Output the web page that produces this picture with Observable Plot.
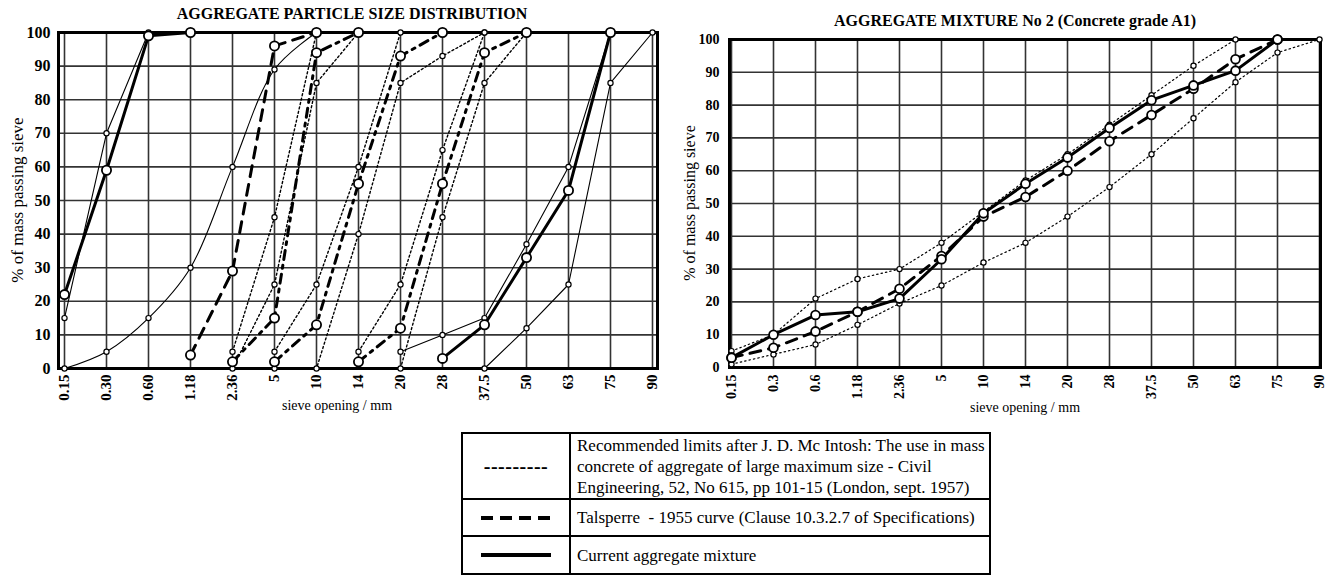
<!DOCTYPE html>
<html>
<head>
<meta charset="utf-8">
<script src="https://cdn.jsdelivr.net/npm/d3@7"></script>
<script src="https://cdn.jsdelivr.net/npm/@observablehq/plot@0.6"></script>
<style>
  body { margin: 0; background: #fff; }
  #root { position: relative; width: 1331px; height: 581px; background: #fff; font-family: "Liberation Serif", "DejaVu Serif", serif; color: #000; overflow: hidden; }
  .abs { position: absolute; }
  .title { font-weight: bold; font-size: 16px; text-align: center; white-space: nowrap; }
  .ylab { font-size: 17px; white-space: nowrap; transform: translate(-50%, -50%) rotate(-90deg); }
  .xlab { font-size: 14px; text-align: center; white-space: nowrap; transform: translate(-50%, -50%); }
  table.legend { border-collapse: collapse; font-size: 17px; line-height: 21px; }
  table.legend td { border: 2px solid #000; padding: 0 2px 0 6px; }
  table.legend td.sym { width: 106px; text-align: center; padding: 0; }
  table.legend td.dashes { font-size: 20px; font-weight: bold; letter-spacing: 0.5px; }
</style>
</head>
<body>
<div id="root"></div>
<script>
// ---------- categories ----------
const sieves = [0.15, 0.3, 0.6, 1.18, 2.36, 5, 10, 14, 20, 28, 37.5, 50, 63, 75, 90];
const leftTickLabels  = ["0.15","0.30","0.60","1.18","2.36","5","10","14","20","28","37.5","50","63","75","90"];
const rightTickLabels = ["0.15","0.3","0.6","1.18","2.36","5","10","14","20","28","37.5","50","63","75","90"];
const yTicks = [0,10,20,30,40,50,60,70,80,90,100];

// ---------- left chart: aggregate particle size distribution (% passing, aligned with sieves) ----------
const _ = null;
const sandUpper      = [15, 70, 100, _, _, _, _, _, _, _, _, _, _, _, _];
const sandLower      = [0, 5, 15, 30, 60, 89, 100, _, _, _, _, _, _, _, _];
const sandCurrent    = [22, 59, 99, 100, _, _, _, _, _, _, _, _, _, _, _];
const sandTalsperre  = [_, _, _, 4, 29, 96, 100, _, _, _, _, _, _, _, _];
const g1Upper        = [_, _, _, _, 5, 45, 100, _, _, _, _, _, _, _, _];
const g1Lower        = [_, _, _, _, 0, 25, 85, 100, _, _, _, _, _, _, _];
const g1Current      = [_, _, _, _, 2, 15, 94, 100, _, _, _, _, _, _, _];
const g2Upper        = [_, _, _, _, _, 5, 25, 60, 100, _, _, _, _, _, _];
const g2Lower        = [_, _, _, _, _, 0, 0, 40, 85, 93, 100, _, _, _, _];
const g2Current      = [_, _, _, _, _, 2, 13, 55, 93, 100, _, _, _, _, _];
const g3Upper        = [_, _, _, _, _, _, _, 5, 25, 65, 100, _, _, _, _];
const g3Lower        = [_, _, _, _, _, _, _, _, 0, 45, 85, 100, _, _, _];
const g3Current      = [_, _, _, _, _, _, _, 2, 12, 55, 94, 100, _, _, _];
const coarseUpper    = [_, _, _, _, _, _, _, _, 5, 10, 15, 37, 60, 100, _];
const coarseLower    = [_, _, _, _, _, _, _, _, _, _, 0, 12, 25, 85, 100];
const coarseCurrent  = [_, _, _, _, _, _, _, _, _, 3, 13, 33, 53, 100, _];

// ---------- right chart: aggregate mixture No 2 ----------
const mixCurrent   = [3, 10, 16, 17, 21, 33, 47, 56, 64, 73, 81.5, 86, 90.5, 100, _];
const mixTalsperre = [3, 6, 11, 17, 24, 34, 46, 52, 60, 69, 77, 85, 94, 100, _];
const mixUpper     = [5, 10, 21, 27, 30, 38, 47.5, 57, 65, 74, 83, 92, 100, _, _];
const mixLower     = [1, 4, 7, 13, 19.5, 25, 32, 38, 46, 55, 65, 76, 87, 96, 100];

// ---------- legend texts ----------
const legendLines1 = [
  "Recommended limits after J. D. Mc Intosh: The use in mass",
  "concrete of aggregate of large maximum size - Civil",
  "Engineering, 52, No 615, pp 101-15 (London, sept. 1957)"
];
const legendText2 = "Talsperre  - 1955 curve (Clause 10.3.2.7 of Specifications)";
const legendText3 = "Current aggregate mixture";

// ---------- helpers ----------
function pts(vals, labels) {
  return vals.map((v, i) => ({x: labels[i], y: v})).filter(d => d.y != null);
}

const STYLES = {
  thin:    {strokeWidth: 1.1},
  dotted:  {strokeWidth: 1.4, strokeDasharray: "2,2.5"},
  dotted2: {strokeWidth: 1.2, strokeDasharray: "1.5,3"},
  solid:   {strokeWidth: 3},
  dashed:  {strokeWidth: 3, strokeDasharray: "11,8"},
  dashdot: {strokeWidth: 3, strokeDasharray: "9,6,3,6"}
};

function buildChart({labels, series, width, height, margins, fontY, fontX, yPad, xPad}) {
  const lineMarks = [];
  const dotMarks = [];
  for (const s of series) {
    const data = pts(s.values, labels);
    lineMarks.push(Plot.line(data, {x: "x", y: "y", stroke: "black", curve: s.curve || "linear", ...STYLES[s.style]}));
    dotMarks.push(Plot.dot(data, {x: "x", y: "y", r: s.r, fill: "white", stroke: "black", strokeWidth: s.r > 3.5 ? 1.8 : 1.2}));
  }
  return Plot.plot({
    width, height,
    marginLeft: margins[0], marginRight: margins[1], marginTop: margins[2], marginBottom: margins[3],
    style: {fontFamily: "Liberation Serif, DejaVu Serif, serif", background: "white", color: "black"},
    x: {type: "point", domain: labels, padding: 0},
    y: {domain: [0, 100]},
    marks: [
      Plot.ruleX(labels, {stroke: "#333", strokeWidth: 1.6}),
      Plot.ruleY(yTicks, {stroke: "#333", strokeWidth: 1.6}),
      Plot.frame({stroke: "black", strokeWidth: 3}),
      ...lineMarks,
      ...dotMarks,
      Plot.axisY(yTicks, {tickSize: 0, tickPadding: yPad, label: null, fontSize: fontY, fontWeight: "bold"}),
      Plot.axisX(labels, {tickSize: 0, tickPadding: xPad, tickRotate: -90, label: null, fontSize: fontX, fontWeight: "bold"})
    ]
  });
}

const L = leftTickLabels, R = rightTickLabels;
const leftSeries = [
  {values: sandUpper, style: "thin", r: 2.6},
  {values: sandLower, style: "thin", r: 2.6, curve: "catmull-rom"},
  {values: coarseUpper, style: "thin", r: 2.6},
  {values: coarseLower, style: "thin", r: 2.6},
  {values: g1Upper, style: "dotted", r: 2.6},
  {values: g1Lower, style: "dotted", r: 2.6},
  {values: g2Upper, style: "dotted", r: 2.6},
  {values: g2Lower, style: "dotted", r: 2.6},
  {values: g3Upper, style: "dotted", r: 2.6},
  {values: g3Lower, style: "dotted", r: 2.6},
  {values: sandTalsperre, style: "dashed", r: 4.6},
  {values: g1Current, style: "dashdot", r: 4.6},
  {values: g2Current, style: "dashdot", r: 4.6},
  {values: g3Current, style: "dashdot", r: 4.6},
  {values: sandCurrent, style: "solid", r: 4.6},
  {values: coarseCurrent, style: "solid", r: 4.6}
];
const rightSeries = [
  {values: mixUpper, style: "dotted2", r: 2.6},
  {values: mixLower, style: "dotted2", r: 2.6},
  {values: mixTalsperre, style: "dashed", r: 4.4},
  {values: mixCurrent, style: "solid", r: 4.4}
];

const root = document.getElementById("root");

function place(el, left, top) {
  el.style.position = "absolute";
  el.style.left = left + "px";
  el.style.top = top + "px";
  root.appendChild(el);
  return el;
}
function div(cls, text, left, top, extra) {
  const d = document.createElement("div");
  d.className = "abs " + cls;
  d.textContent = text;
  Object.assign(d.style, extra || {});
  return place(d, left, top);
}

const left = buildChart({labels: L, series: leftSeries, width: 665, height: 420,
  margins: [58, 8, 32, 52], fontY: 16, fontX: 15, yPad: 8, xPad: 6});
place(left, 0, 0);

const right = buildChart({labels: R, series: rightSeries, width: 666, height: 420,
  margins: [64, 11, 39, 53], fontY: 14, fontX: 14, yPad: 10, xPad: 7});
place(right, 665, 0);

div("title", "AGGREGATE PARTICLE SIZE DISTRIBUTION", 152, 5, {width: "400px"});
div("title", "AGGREGATE MIXTURE No 2 (Concrete grade A1)", 815, 12, {width: "400px"});
div("ylab", "% of mass passing sieve", 18, 200);
div("ylab", "% of mass passing sieve", 690, 203, {fontSize: "16px"});
div("xlab", "sieve opening / mm", 337, 406);
div("xlab", "sieve opening / mm", 1025, 408);

// ---------- legend ----------
const legendItems = [
  {sym: "text", lines: legendLines1, h: 66},
  {sym: "dashed", lines: [legendText2], h: 37},
  {sym: "solid", lines: [legendText3], h: 38}
];
const table = document.createElement("table");
table.className = "legend";
table.style.width = "530px";
for (const item of legendItems) {
  const tr = document.createElement("tr");
  tr.style.height = item.h + "px";
  const s = document.createElement("td");
  s.className = "sym";
  if (item.sym === "text") {
    s.classList.add("dashes");
    s.textContent = "---------";
  } else {
    const svg = d3.create("svg").attr("width", 74).attr("height", 10).style("display", "block").style("margin", "0 auto");
    svg.append("line").attr("x1", 2).attr("x2", 72).attr("y1", 5).attr("y2", 5)
      .attr("stroke", "black").attr("stroke-width", 4)
      .attr("stroke-dasharray", item.sym === "dashed" ? "12,7" : null);
    s.appendChild(svg.node());
  }
  const t = document.createElement("td");
  item.lines.forEach((ln, i) => {
    if (i) t.appendChild(document.createElement("br"));
    t.appendChild(document.createTextNode(ln));
  });
  t.style.whiteSpace = "pre";
  tr.appendChild(s); tr.appendChild(t);
  table.appendChild(tr);
}
place(table, 461, 432);
</script>
</body>
</html>
